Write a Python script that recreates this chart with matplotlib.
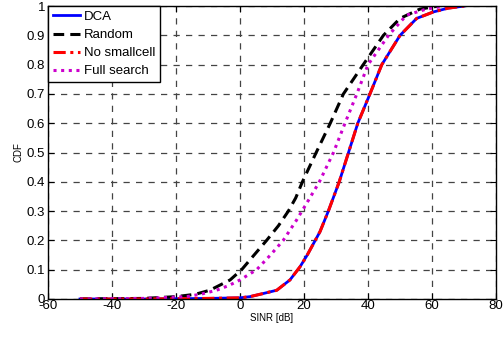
import matplotlib
matplotlib.use("Agg")
import matplotlib.pyplot as plt

plt.rcParams['font.family'] = ['Liberation Sans', 'DejaVu Sans']
plt.rcParams['axes.unicode_minus'] = False

# values (SINR in dB, CDF)
dca_x = [-50, -30, -20, -10, 0, 3.1, 7, 11.5, 15.6, 18.75, 21, 25, 27.6, 31.0, 33.9, 36.8, 40.6, 44.3, 50, 55.2, 60.4, 65, 70]
dca_y = [0.0, 0.0, 0.001, 0.002, 0.004, 0.008, 0.018, 0.03, 0.065, 0.11, 0.15, 0.23, 0.30, 0.40, 0.50, 0.60, 0.70, 0.80, 0.90, 0.958, 0.98, 0.993, 1.0]

random_x = [-50, -30, -20, -14, -9.4, -3.1, 0.5, 4, 8.3, 12, 15.1, 17.4, 19.5, 23.8, 28.2, 32.3, 38.5, 44.8, 50, 56.25, 62]
random_y = [0.0, 0.002, 0.008, 0.016, 0.03, 0.065, 0.10, 0.145, 0.20, 0.25, 0.30, 0.345, 0.40, 0.50, 0.60, 0.70, 0.80, 0.90, 0.958, 0.99, 1.0]

nosmall_x = [-50, -30, -20, -10, 0, 3.1, 7, 11.5, 15.6, 18.75, 21, 25, 27.6, 31.0, 33.9, 36.8, 40.6, 44.3, 50, 55.2, 60.4, 65, 70]
nosmall_y = [0.0, 0.0, 0.001, 0.002, 0.004, 0.008, 0.018, 0.03, 0.065, 0.11, 0.15, 0.23, 0.30, 0.40, 0.50, 0.60, 0.70, 0.80, 0.90, 0.958, 0.98, 0.993, 1.0]

full_x = [-50, -30, -16.7, -12, -7.3, -3.5, 0, 5.2, 9.5, 13.5, 17.7, 21, 24.8, 29.2, 32.8, 36.5, 40, 46.4, 52, 58.3, 64]
full_y = [0.0, 0.002, 0.008, 0.017, 0.03, 0.046, 0.065, 0.10, 0.15, 0.20, 0.27, 0.33, 0.40, 0.50, 0.60, 0.70, 0.80, 0.90, 0.969, 0.99, 1.0]

xticks = [-60, -40, -20, 0, 20, 40, 60, 80]
yticks = [0, 0.1, 0.2, 0.3, 0.4, 0.5, 0.6, 0.7, 0.8, 0.9, 1]
yticklabels = ['0', '0.1', '0.2', '0.3', '0.4', '0.5', '0.6', '0.7', '0.8', '0.9', '1']

fig = plt.figure(figsize=(5.04, 3.39), dpi=100)
ax = fig.add_axes([0.0952, 0.118, 0.889, 0.864])

ax.plot(dca_x, dca_y, color='#0000ff', lw=2, ls='-', label='DCA')
ax.plot(random_x, random_y, color='black', lw=2.2, ls=(0, (3.5, 2)), label='Random')
ax.plot(nosmall_x, nosmall_y, color='#ff0000', lw=2.2, ls=(0, (4, 1.5, 1, 1.5)), label='No smallcell')
ax.plot(full_x, full_y, color='#cc00cc', lw=2.2, ls=(0, (1, 1.5)), label='Full search')

ax.set_xlim(-60, 80)
ax.set_ylim(0, 1)
ax.set_xticks(xticks)
ax.set_yticks(yticks)
ax.set_yticklabels(yticklabels)
ax.tick_params(direction='in', top=True, right=True, labelsize=9.5, length=4)
ax.tick_params(axis='x', pad=0.5)
ax.tick_params(axis='y', pad=2)
ax.grid(True, color='#444444', ls=(0, (5, 5)), lw=0.9)
for s in ax.spines.values():
    s.set_linewidth(1.0)

ax.set_xlabel('SINR [dB]', fontsize=7, labelpad=1)
ax.set_ylabel('CDF', fontsize=7, labelpad=2)

leg = ax.legend(loc='upper left', fontsize=9.5, fancybox=False, framealpha=1,
                edgecolor='black', borderaxespad=0, handlelength=2.1,
                handletextpad=0.3, labelspacing=0.45, borderpad=0.35)
leg.get_frame().set_linewidth(1.0)

fig.savefig('out.png', dpi=100)
